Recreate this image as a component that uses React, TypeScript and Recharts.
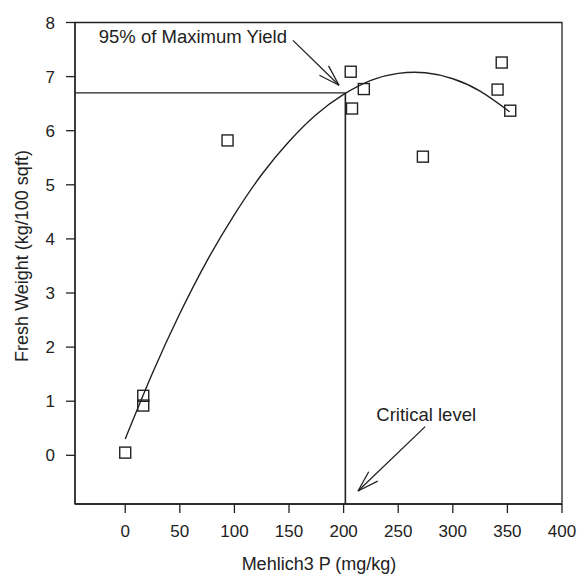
import React from 'react';
import {
  ComposedChart,
  Line,
  Scatter,
  XAxis,
  YAxis,
  ReferenceLine,
  ReferenceArea,
} from 'recharts';

// observed points (Mehlich3 P, fresh weight)
const pointP = [0, 16.5, 16.5, 93.7, 206.5, 218.5, 207.7, 272.6, 344.8, 341, 352.6];
const pointWeight = [0.05, 1.1, 0.92, 5.82, 7.09, 6.77, 6.41, 5.52, 7.26, 6.76, 6.37];

// fitted response curve
const curveP = [0, 25, 50, 75, 100, 125, 150, 175, 200, 225, 250, 275, 300, 325, 352];
const curveWeight = [0.3, 1.52, 2.62, 3.6, 4.45, 5.19, 5.8, 6.3, 6.67, 6.93, 7.06, 7.07, 6.96, 6.73, 6.35];

const xTicks = [0, 50, 100, 150, 200, 250, 300, 350, 400];
const yTicks = [0, 1, 2, 3, 4, 5, 6, 7, 8];

const yield95 = 6.7;
const criticalP = 201.6;

const X_MIN = -46;
const X_MAX = 400;
const Y_MIN = -0.9;
const Y_MAX = 8;

const points = pointP.map((p, i) => ({ x: p, y: pointWeight[i] }));
const curve = curveP.map((p, i) => ({ x: p, y: curveWeight[i] }));

const INK = '#222';
const FONT = '"Liberation Sans", Arial, sans-serif';

const SquareMark = (props: any) => {
  const { cx, cy } = props;
  if (cx == null || cy == null) return null;
  return (
    <rect x={cx - 5.5} y={cy - 5.5} width={11} height={11} fill="none" stroke={INK} strokeWidth={1.4} />
  );
};

// arrow from tail (x1,y1) to head (x2,y2) with a text at the tail
const makeArrow = (text: string, dx: number, dy: number, anchor: string) => (props: any) => {
  const { x1, y1, x2, y2 } = props;
  const ang = Math.atan2(y1 - y2, x1 - x2);
  const len = 22;
  const spread = 0.3;
  const b1x = x2 + len * Math.cos(ang - spread);
  const b1y = y2 + len * Math.sin(ang - spread);
  const b2x = x2 + len * Math.cos(ang + spread);
  const b2y = y2 + len * Math.sin(ang + spread);
  return (
    <g>
      <line x1={x1} y1={y1} x2={x2} y2={y2} stroke={INK} strokeWidth={1.3} />
      <line x1={b1x} y1={b1y} x2={x2} y2={y2} stroke={INK} strokeWidth={1.3} />
      <line x1={b2x} y1={b2y} x2={x2} y2={y2} stroke={INK} strokeWidth={1.3} />
      <text x={x1 + dx} y={y1 + dy} textAnchor={anchor} fontSize={18.5} fontFamily={FONT} fill={INK}>
        {text}
      </text>
    </g>
  );
};

export default function App() {
  return (
    <div style={{ position: 'absolute', left: 0, top: 0, width: 579, height: 576, background: '#fff' }}>
      <ComposedChart
        width={579}
        height={576}
        margin={{ top: 22.5, right: 17, left: 15, bottom: 32 }}
      >
        <XAxis
          type="number"
          dataKey="x"
          domain={[X_MIN, X_MAX]}
          ticks={xTicks}
          allowDataOverflow
          height={40}
          tickSize={9}
          tickMargin={12}
          stroke={INK}
          strokeWidth={1.3}
          tick={{ fill: INK, fontSize: 17, fontFamily: FONT }}
          label={{
            content: () => (
              <text x={319} y={570} textAnchor="middle" fontSize={18} fontFamily={FONT} fill={INK}>
                Mehlich3 P (mg/kg)
              </text>
            ),
          }}
        />
        <YAxis
          type="number"
          dataKey="y"
          domain={[Y_MIN, Y_MAX]}
          ticks={yTicks}
          allowDataOverflow
          width={60}
          tickSize={9}
          tickMargin={11}
          stroke={INK}
          strokeWidth={1.3}
          tick={{ fill: INK, fontSize: 17, fontFamily: FONT }}
          label={{
            content: () => (
              <text
                x={28}
                y={256}
                transform="rotate(-90 28 256)"
                textAnchor="middle"
                fontSize={18}
                fontFamily={FONT}
                fill={INK}
              >
                Fresh Weight (kg/100 sqft)
              </text>
            ),
          }}
        />
        <ReferenceArea
          x1={X_MIN}
          x2={X_MAX}
          y1={Y_MIN}
          y2={Y_MAX}
          fill="none"
          stroke={INK}
          strokeWidth={1.3}
          fillOpacity={0}
        />
        <ReferenceLine
          segment={[{ x: X_MIN, y: yield95 }, { x: criticalP, y: yield95 }]}
          stroke={INK}
          strokeWidth={1.3}
        />
        <ReferenceLine
          segment={[{ x: criticalP, y: Y_MIN }, { x: criticalP, y: yield95 }]}
          stroke={INK}
          strokeWidth={1.6}
        />
        <ReferenceLine
          segment={[{ x: 153.6, y: 7.67 }, { x: 195.8, y: 6.84 }]}
          shape={makeArrow('95% of Maximum Yield', -6, 3, 'end')}
        />
        <ReferenceLine
          segment={[{ x: 274.7, y: 0.53 }, { x: 213.2, y: -0.66 }]}
          shape={makeArrow('Critical level', 1, -6, 'middle')}
        />
        <Line
          data={curve}
          dataKey="y"
          type="natural"
          dot={false}
          activeDot={false}
          stroke={INK}
          strokeWidth={1.4}
          isAnimationActive={false}
        />
        <Scatter data={points} dataKey="y" shape={SquareMark} isAnimationActive={false} />
      </ComposedChart>
    </div>
  );
}
